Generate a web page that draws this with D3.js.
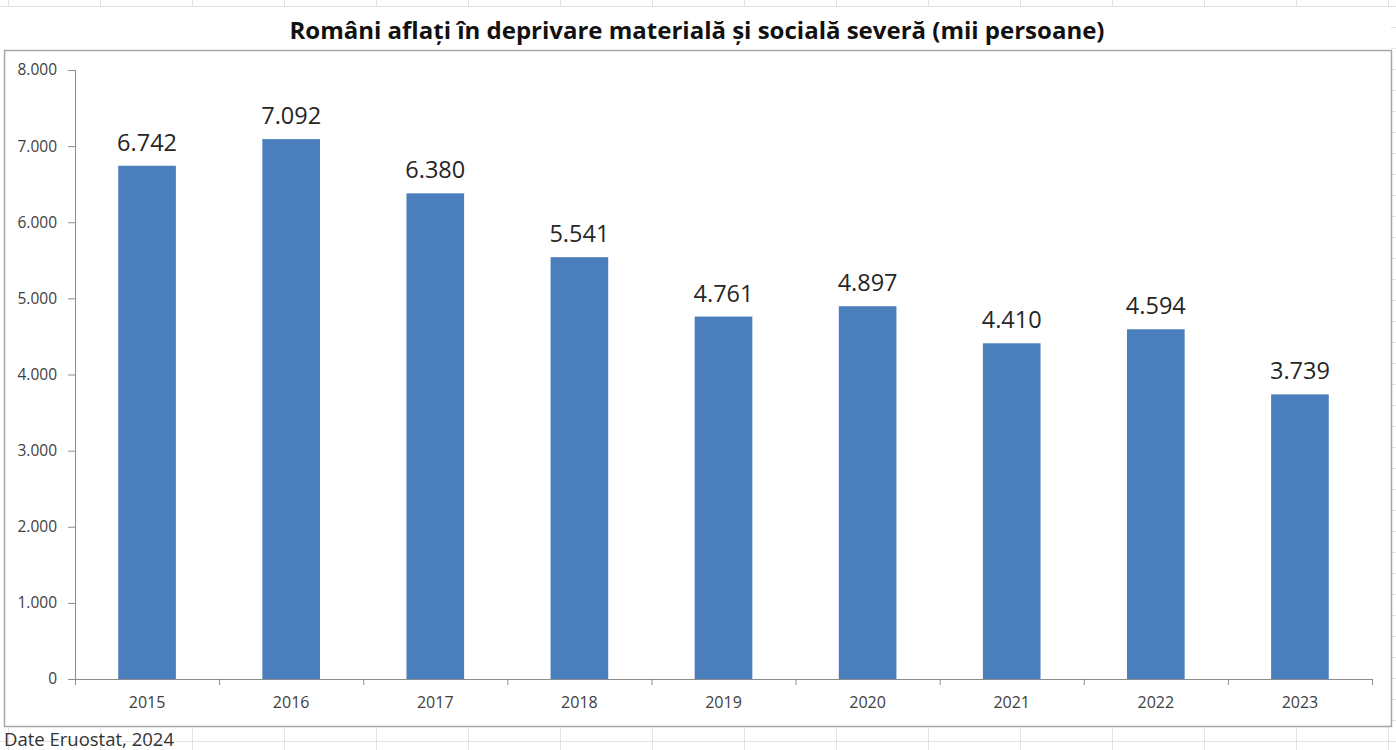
<!DOCTYPE html>
<html>
<head>
<meta charset="utf-8">
<script src="https://cdn.jsdelivr.net/npm/d3@7"></script>
<style>
  body { margin: 0; background: #fff; }
  svg { display: block; font-family: "Open Sans", "Noto Sans", sans-serif; }
</style>
</head>
<body>
<div id="chart"></div>
<script>
const years = ['2015', '2016', '2017', '2018', '2019', '2020', '2021', '2022', '2023'];
const persons = [6742, 7092, 6380, 5541, 4761, 4897, 4410, 4594, 3739];
const yTicks = [0, 1000, 2000, 3000, 4000, 5000, 6000, 7000, 8000];
const titleText = 'Români aflați în deprivare materială și socială severă (mii persoane)';
const sourceText = 'Date Eruostat, 2024';

const width = 1396;
const height = 750;
const margin = { top: 70, right: 24, bottom: 71, left: 75 };

const ro = d3.formatLocale({ decimal: ',', thousands: '.', grouping: [3], currency: ['', ' lei'] });
const fmt = ro.format(',d');

const svg = d3.select('#chart')
    .append('svg')
    .attr('width', width)
    .attr('height', height);

// spreadsheet grid behind the chart object
const sheet = svg.append('g').attr('stroke', '#e3e3e3').attr('stroke-width', 1);
d3.range(8, width, 92).forEach(x => {
    sheet.append('line').attr('x1', x + 0.5).attr('x2', x + 0.5).attr('y1', 0).attr('y2', height);
});
d3.range(6, height, 21).forEach(y => {
    sheet.append('line').attr('x1', 0).attr('x2', width).attr('y1', y + 0.5).attr('y2', y + 0.5);
});

// chart object
svg.append('rect')
    .attr('x', 0).attr('y', 7)
    .attr('width', 1391).attr('height', 720)
    .attr('fill', '#fff');

svg.append('rect')
    .attr('x', 4.5).attr('y', 50.5)
    .attr('width', 1387).attr('height', 676)
    .attr('fill', '#fff')
    .attr('stroke', '#a6a6a6')
    .attr('stroke-width', 1.5);

svg.append('text')
    .attr('x', 697)
    .attr('y', 39)
    .attr('text-anchor', 'middle')
    .attr('font-size', 24)
    .attr('font-weight', 700)
    .attr('fill', '#111')
    .text(titleText);

const x = d3.scaleBand()
    .domain(years)
    .range([margin.left, width - margin.right])
    .paddingInner(0.6)
    .paddingOuter(0.3);

const y = d3.scaleLinear()
    .domain([0, 8000])
    .range([height - margin.bottom, margin.top]);

// y axis
const yAxis = svg.append('g')
    .attr('transform', `translate(${margin.left},0)`)
    .call(d3.axisLeft(y).tickValues(yTicks).tickFormat(fmt).tickSize(7).tickPadding(11));
yAxis.select('.domain').attr('stroke', '#8c8c8c');
yAxis.selectAll('.tick line').attr('stroke', '#8c8c8c');
yAxis.selectAll('.tick text')
    .attr('font-size', 15.5)
    .attr('fill', '#404040')
    .attr('font-family', '"Open Sans", sans-serif');

// bars
svg.selectAll('.bar')
    .data(persons)
    .enter()
    .append('rect')
    .attr('class', 'bar')
    .attr('x', (d, i) => x(years[i]))
    .attr('y', d => y(d))
    .attr('width', x.bandwidth())
    .attr('height', d => y(0) - y(d))
    .attr('fill', '#4a7ebc');

// value labels
svg.selectAll('.val')
    .data(persons)
    .enter()
    .append('text')
    .attr('class', 'val')
    .attr('x', (d, i) => x(years[i]) + x.bandwidth() / 2)
    .attr('y', d => y(d) - 15)
    .attr('text-anchor', 'middle')
    .attr('font-size', 23.5)
    .attr('fill', '#262626')
    .text(d => fmt(d));

// x axis with ticks between categories
const step = x.step();
const x0 = margin.left;
const xBoundaries = d3.range(years.length + 1).map(k => x0 + k * step);
const xAxisG = svg.append('g');
xAxisG.append('line')
    .attr('x1', x0).attr('x2', width - margin.right)
    .attr('y1', y(0) + 0.5).attr('y2', y(0) + 0.5)
    .attr('stroke', '#8c8c8c');
xAxisG.selectAll('.xtick')
    .data(xBoundaries)
    .enter()
    .append('line')
    .attr('x1', d => d + 0.5).attr('x2', d => d + 0.5)
    .attr('y1', y(0)).attr('y2', y(0) + 6)
    .attr('stroke', '#8c8c8c');
xAxisG.selectAll('.xlabel')
    .data(years)
    .enter()
    .append('text')
    .attr('x', d => x(d) + x.bandwidth() / 2)
    .attr('y', y(0) + 29)
    .attr('text-anchor', 'middle')
    .attr('font-size', 16)
    .attr('fill', '#404040')
    .text(d => d);

svg.append('text')
    .attr('x', 4)
    .attr('y', 746)
    .attr('font-size', 18.5)
    .attr('fill', '#333')
    .text(sourceText);
</script>
</body>
</html>
